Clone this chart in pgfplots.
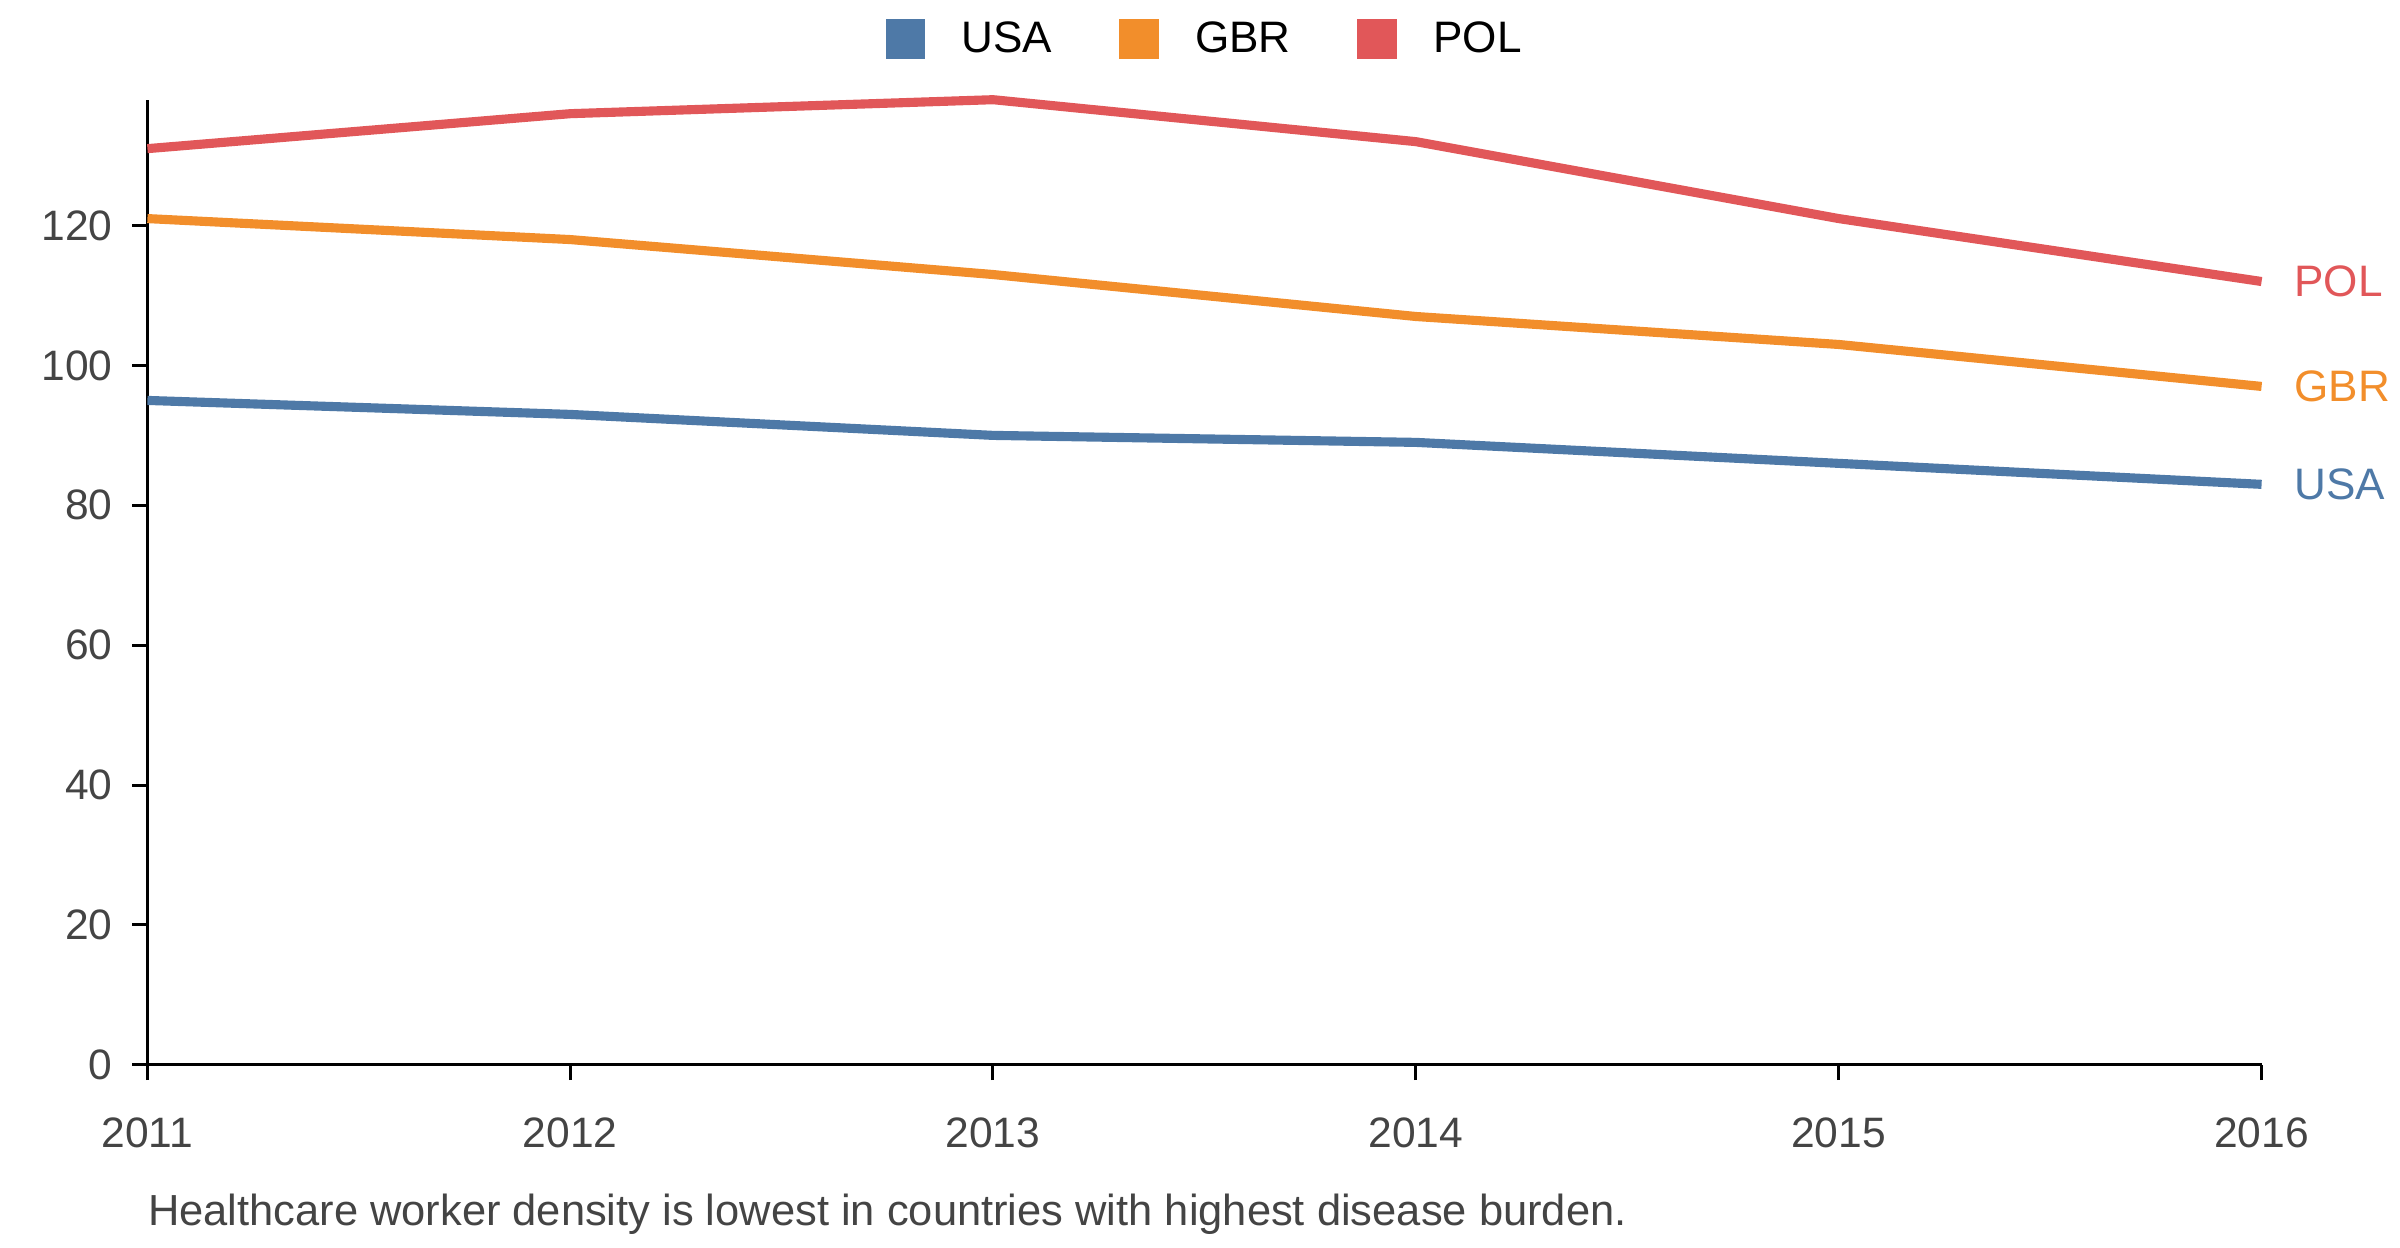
\documentclass[border=0pt]{standalone}
\usepackage{pgfplots}
\pgfplotsset{compat=1.18}
\usepackage{fontspec}
\setmainfont{Liberation Sans}
\definecolor{cusa}{HTML}{4E79A7}
\definecolor{cgbr}{HTML}{F28E2B}
\definecolor{cpol}{HTML}{E15759}
\definecolor{txt}{HTML}{444444}
\begin{document}
\begin{tikzpicture}
\begin{axis}[name=ax, scale only axis, width=695.5bp, height=317.5bp,
  xmin=2011, xmax=2016, ymin=0, ymax=138,
  axis lines=left, axis line style={-, black, line width=1bp},
  tick align=outside, tick style={black, line width=1bp}, major tick length=5bp,
  xtick={2011,...,2016}, ytick={0,20,...,120},
  xticklabel style={/pgf/number format/1000 sep={}, yshift=-9bp},
  yticklabel style={xshift=-3bp},
  every tick label/.append style={font=\fontsize{14bp}{16bp}\selectfont, text=txt},
  /pgf/number format/assume math mode=true,
  legend columns=3,
  legend style={at={(0.501,1.063)}, anchor=center, draw=none, fill=none,
    font=\fontsize{14.5bp}{16bp}\selectfont, text=black,
    /tikz/every odd column/.append style={column sep=10bp},
    /tikz/every even column/.append style={column sep=20bp}},
  legend image code/.code={\fill[#1] (0bp,-5bp) rectangle (10bp,5bp);},
  clip=false]
\addplot[cusa, line width=3bp] coordinates {(2011,95)(2012,93)(2013,90)(2014,89)(2015,86)(2016,83)}
  node[pos=1, right, xshift=6bp, font=\fontsize{14.5bp}{16bp}\selectfont]{USA};
\addplot[cgbr, line width=3bp] coordinates {(2011,121)(2012,118)(2013,113)(2014,107)(2015,103)(2016,97)}
  node[pos=1, right, xshift=6bp, font=\fontsize{14.5bp}{16bp}\selectfont]{GBR};
\addplot[cpol, line width=3bp] coordinates {(2011,131)(2012,136)(2013,138)(2014,132)(2015,121)(2016,112)}
  node[pos=1, right, xshift=6bp, font=\fontsize{14.5bp}{16bp}\selectfont]{POL};
\legend{USA,GBR,POL}
\end{axis}
\node[anchor=west, text=txt, font=\fontsize{14.3bp}{16bp}\selectfont, inner sep=0pt] at ([yshift=-49bp]ax.south west) {Healthcare worker density is lowest in countries with highest disease burden.};
\path ([xshift=-48.5bp, yshift=-60bp]ax.south west) rectangle ++(784bp,410.3bp);
\end{tikzpicture}
\end{document}
